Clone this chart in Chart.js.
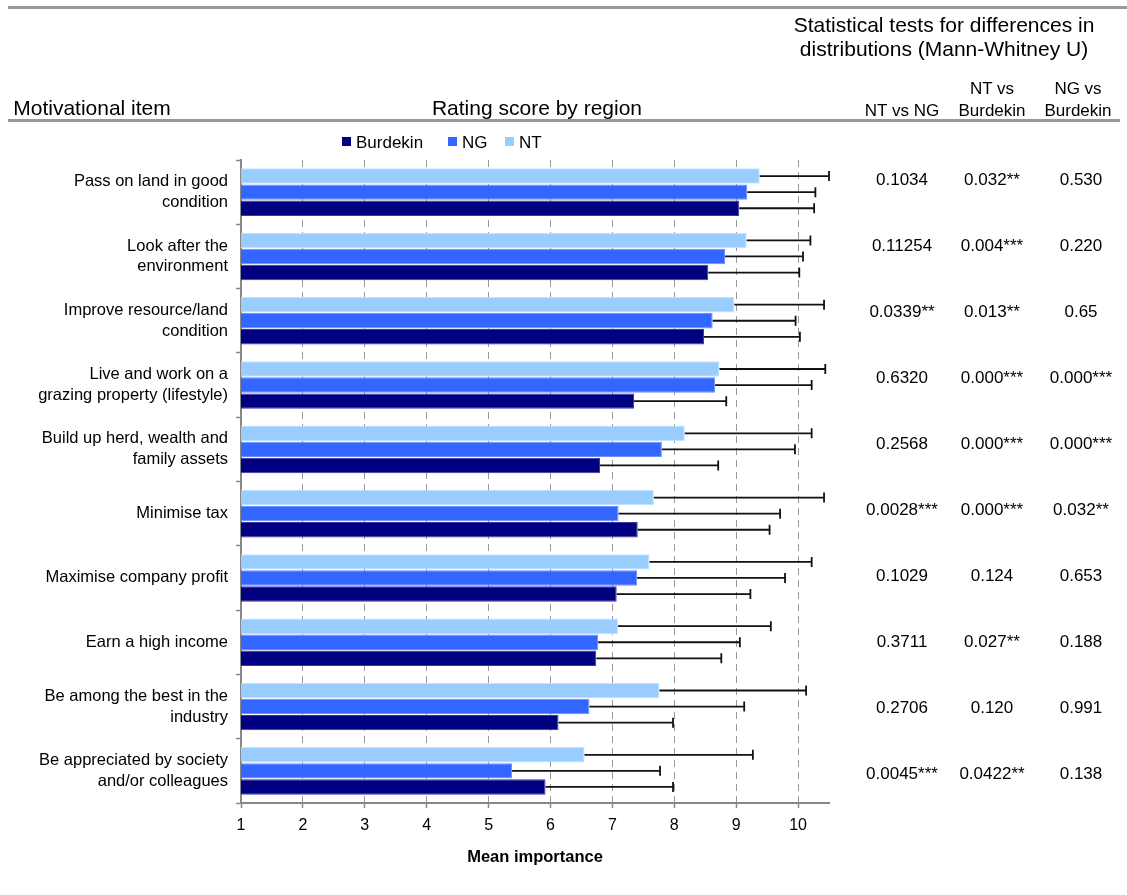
<!DOCTYPE html>
<html>
<head>
<meta charset="utf-8">
<title>Motivational items by region</title>
<script src="https://cdn.jsdelivr.net/npm/chart.js@4.4.1/dist/chart.umd.min.js"></script>
<style>
  html, body { margin: 0; padding: 0; background: #fff; }
  body { width: 1127px; height: 895px; position: relative; overflow: hidden;
         font-family: "Liberation Sans", Arial, sans-serif; color: #000; }
  #chart { position: absolute; left: 0; top: 0; }
  .rule { position: absolute; background: #999; }
  .txt { position: absolute; white-space: nowrap; line-height: 1; transform: translate(-50%, -50%); text-align: center; }
  .big { font-size: 21px; }
  .small { font-size: 17px; }
  .swatch { position: absolute; width: 9px; height: 9px; }
  .leg { position: absolute; font-size: 17px; line-height: 1; }
</style>
</head>
<body>
<canvas id="chart" width="1127" height="895"></canvas>

<div class="rule" style="left:8px;top:6px;width:1119px;height:3px"></div>
<div class="rule" style="left:8px;top:119px;width:1112px;height:3px"></div>

<div class="txt big" style="left:944px;top:24px">Statistical tests for differences in</div>
<div class="txt big" style="left:944px;top:48px">distributions (Mann-Whitney U)</div>
<div class="txt big" style="left:92px;top:107px">Motivational item</div>
<div class="txt big" style="left:537px;top:107px">Rating score by region</div>
<div class="txt small" style="left:902px;top:110px">NT vs NG</div>
<div class="txt small" style="left:992px;top:88px">NT vs</div>
<div class="txt small" style="left:992px;top:110px">Burdekin</div>
<div class="txt small" style="left:1078px;top:88px">NG vs</div>
<div class="txt small" style="left:1078px;top:110px">Burdekin</div>

<div id="legend"></div>
<div id="pvalues"></div>

<script>
// motivational items (category axis)
const items = [
  ['Pass on land in good', 'condition'],
  ['Look after the', 'environment'],
  ['Improve resource/land', 'condition'],
  ['Live and work on a', 'grazing property (lifestyle)'],
  ['Build up herd, wealth and', 'family assets'],
  'Minimise tax',
  'Maximise company profit',
  'Earn a high income',
  ['Be among the best in the', 'industry'],
  ['Be appreciated by society', 'and/or colleagues']
];

// mean importance and standard deviation per region
const ntMean = [9.38, 9.17, 8.97, 8.73, 8.17, 7.67, 7.60, 7.09, 7.76, 6.55];
const ntSd   = [1.12, 1.03, 1.45, 1.71, 2.05, 2.75, 2.62, 2.47, 2.37, 2.72];
const ngMean = [9.18, 8.82, 8.62, 8.66, 7.80, 7.10, 7.40, 6.77, 6.63, 5.38];
const ngSd   = [1.10, 1.26, 1.34, 1.56, 2.15, 2.61, 2.39, 2.29, 2.50, 2.39];
const burdekinMean = [9.05, 8.55, 8.48, 7.35, 6.80, 7.41, 7.07, 6.74, 6.13, 5.92];
const burdekinSd   = [1.21, 1.47, 1.55, 1.49, 1.91, 2.13, 2.16, 2.02, 1.85, 2.06];

// Mann-Whitney U p-values
const pNtNg       = ['0.1034', '0.11254', '0.0339**', '0.6320', '0.2568', '0.0028***', '0.1029', '0.3711', '0.2706', '0.0045***'];
const pNtBurdekin = ['0.032**', '0.004***', '0.013**', '0.000***', '0.000***', '0.000***', '0.124', '0.027**', '0.120', '0.0422**'];
const pNgBurdekin = ['0.530', '0.220', '0.65', '0.000***', '0.000***', '0.032**', '0.653', '0.188', '0.991', '0.138'];

const xMin = 1, xMax = 10.5;

const regions = [
  { label: 'Burdekin', color: '#000080', edge: '#3838a8' },
  { label: 'NG', color: '#3366ff', edge: '#6d8fff' },
  { label: 'NT', color: '#99ccff', edge: '#c4e2ff' }
];

// legend
const legendEl = document.getElementById('legend');
const legendPos = [342, 448, 505];
regions.forEach((r, i) => {
  legendEl.insertAdjacentHTML('beforeend',
    `<div class="swatch" style="left:${legendPos[i]}px;top:137px;background:${r.color}"></div>` +
    `<div class="leg" style="left:${legendPos[i] + 14}px;top:134px">${r.label}</div>`);
});

// p-value table
const pvEl = document.getElementById('pvalues');
[pNtNg, pNtBurdekin, pNgBurdekin].forEach((col, c) => {
  const cx = [902, 992, 1081][c];
  col.forEach((v, i) => {
    pvEl.insertAdjacentHTML('beforeend',
      `<div class="txt small" style="left:${cx}px;top:${179 + 66 * i}px">${v}</div>`);
  });
});

// plus-side error bars drawn at the end of each bar
const errorBars = {
  id: 'errorBars',
  afterDatasetsDraw(chart) {
    const { ctx, scales: { x } } = chart;
    ctx.save();
    ctx.strokeStyle = '#111';
    ctx.lineWidth = 1.8;
    chart.data.datasets.forEach((ds, i) => {
      chart.getDatasetMeta(i).data.forEach((bar, j) => {
        const xe = x.getPixelForValue(ds.data[j] + ds.sd[j]);
        ctx.beginPath();
        ctx.moveTo(bar.x, bar.y);
        ctx.lineTo(xe, bar.y);
        ctx.moveTo(xe, bar.y - 5);
        ctx.lineTo(xe, bar.y + 5);
        ctx.stroke();
      });
    });
    ctx.restore();
  }
};

const font = { family: '"Liberation Sans", Arial, sans-serif' };

new Chart(document.getElementById('chart'), {
  type: 'bar',
  data: {
    labels: items,
    datasets: [
      { label: 'NT', data: ntMean, sd: ntSd, backgroundColor: regions[2].color, borderColor: regions[2].edge },
      { label: 'NG', data: ngMean, sd: ngSd, backgroundColor: regions[1].color, borderColor: regions[1].edge },
      { label: 'Burdekin', data: burdekinMean, sd: burdekinSd, backgroundColor: regions[0].color, borderColor: regions[0].edge }
    ].map(d => ({ ...d, borderWidth: 1, categoryPercentage: 0.75, barPercentage: 0.96 }))
  },
  options: {
    indexAxis: 'y',
    responsive: false,
    animation: false,
    layout: { padding: { top: 160, right: 298, bottom: 0, left: 0 } },
    plugins: { legend: { display: false }, tooltip: { enabled: false } },
    scales: {
      x: {
        min: xMin,
        max: xMax,
        afterFit: s => { s.height = 92; },
        ticks: { stepSize: 1, includeBounds: false, padding: 8, color: '#000', font: { ...font, size: 16 } },
        grid: { color: '#999', lineWidth: 1, drawTicks: true, tickLength: 5, tickColor: '#888', tickWidth: 1.5 },
        border: { color: '#888', width: 2, dash: [7, 5] },
        title: {
          display: true, text: 'Mean importance', color: '#000',
          font: { ...font, size: 16.5, weight: 'bold' },
          padding: { top: 0, bottom: 28 }
        }
      },
      y: {
        afterFit: s => { s.width = 241; },
        ticks: { padding: 8, color: '#000', font: { ...font, size: 16.5, lineHeight: 1.27 } },
        grid: { drawOnChartArea: false, drawTicks: true, tickLength: 5, tickColor: '#888', tickWidth: 1.5, offset: true },
        border: { color: '#888', width: 2 }
      }
    }
  },
  plugins: [errorBars]
});
</script>
</body>
</html>
